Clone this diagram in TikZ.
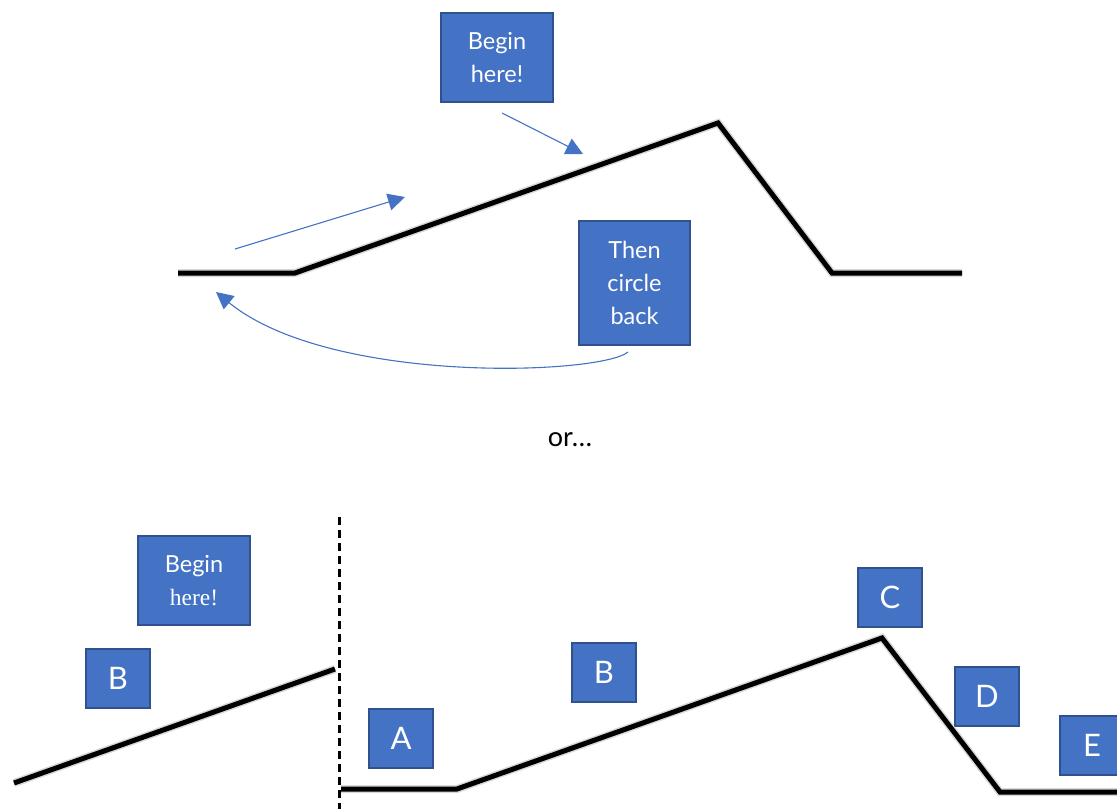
\documentclass[tikz,border=0pt]{standalone}
\usepackage{fontspec}
\setmainfont{Lato}
\newfontfamily\serifface{Liberation Serif}
\usetikzlibrary{arrows.meta}
\definecolor{boxblue}{HTML}{4472C4}
\definecolor{boxedge}{HTML}{2F528F}
\tikzset{
  bluebox/.style={draw=boxedge, line width=1.5pt, fill=boxblue, text=white, inner sep=0pt, align=center, font=\fontsize{23.5}{33}\selectfont},
  letterbox/.style={bluebox, minimum width=64pt, minimum height=59pt, font=\fontsize{31}{33}\selectfont},
  profile/.style={line width=5pt, black, line join=miter},
  shadowline/.style={line width=8pt, black!30, opacity=0.5, line join=miter},
  bluearrow/.style={draw=boxblue, line width=1.1pt, -{Triangle[length=17pt,width=17pt]}},
}
\begin{document}
\begin{tikzpicture}[x=1pt,y=-1pt]
\useasboundingbox (0,0) rectangle (1117,809);
% ---------- top ----------
\node[bluebox, minimum width=112pt, minimum height=89pt] (begin1) at (497,57.5) {Begin\\here!};
\node[bluebox, minimum width=111pt, minimum height=124pt] (then) at (634.5,283) {Then\\circle\\back};
\coordinate (p1) at (178,273);
\coordinate (p2) at (295,273);
\coordinate (p3) at (718,123);
\coordinate (p4) at (832,273);
\coordinate (p5) at (962,273);
\draw[shadowline, shift={(2,5)}] (p1) -- (p2) -- (p3) -- (p4) -- (p5);
\draw[profile] (p1) -- (p2) -- (p3) -- (p4) -- (p5);
\coordinate (a1s) at (502,113);
\coordinate (a1e) at (583,154);
\draw[bluearrow] (a1s) -- (a1e);
\coordinate (a2s) at (235,249);
\coordinate (a2e) at (405,197);
\draw[bluearrow] (a2s) -- (a2e);
\coordinate (a3s) at (628,352);
\coordinate (a3e) at (216,292);
\draw[bluearrow] (a3s) .. controls (600,375) and (330,385) .. (a3e);
\node[font=\fontsize{27}{30}\selectfont] (or) at (570,440) {or\ldots};
% ---------- bottom ----------
\coordinate (dtop) at (339,517);
\coordinate (dbot) at (339,809);
\draw[line width=3pt, dash pattern=on 8pt off 5pt] (dtop) -- (dbot);
\node[bluebox, minimum width=112pt, minimum height=89pt] (begin2) at (194,580.5) {Begin\\{\serifface here!}};
\node[letterbox] (bL) at (118,678.5) {B};
\coordinate (q1) at (14,783);
\coordinate (q2) at (335,669);
\draw[shadowline, shift={(2,5)}] (q1) -- (q2);
\draw[profile] (q1) -- (q2);
\node[letterbox] (A) at (401,738.5) {A};
\node[letterbox] (B) at (604,672.5) {B};
\node[letterbox] (C) at (890,597.5) {C};
\node[letterbox] (D) at (987,696.5) {D};
\node[letterbox] (E) at (1092,745.5) {E};
\coordinate (r1) at (341,789);
\coordinate (r2) at (457,789);
\coordinate (r3) at (882,638);
\coordinate (r4) at (1000,792);
\coordinate (r5) at (1120,792);
\draw[shadowline, shift={(2,5)}] (r1) -- (r2) -- (r3) -- (r4) -- (r5);
\draw[profile] (r1) -- (r2) -- (r3) -- (r4) -- (r5);
\end{tikzpicture}
\end{document}
